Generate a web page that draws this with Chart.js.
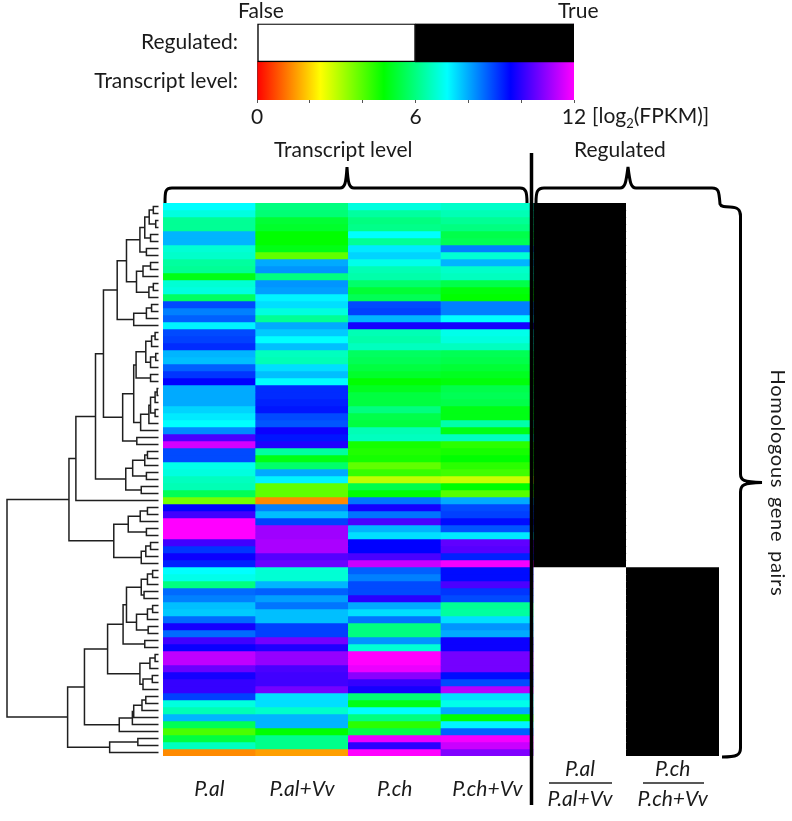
<!DOCTYPE html>
<html><head><meta charset="utf-8">
<style>
html,body{margin:0;padding:0;background:#fff;width:792px;height:821px;overflow:hidden;font-family:Lato,sans-serif;color:#1a1a1a}
canvas{position:absolute}
.t{position:absolute;font-size:21px;line-height:20px;white-space:nowrap}
svg{position:absolute;left:0;top:0}
sub{font-size:13px;line-height:0}
</style>
<script src="https://cdn.jsdelivr.net/npm/chart.js@4"></script>
</head><body>
<div style="position:absolute;left:0;top:0;width:640px;height:130px"><canvas id="legendChart"></canvas></div>
<div style="position:absolute;left:0;top:196px;width:165px;height:567px"><canvas id="treeChart"></canvas></div>
<div style="position:absolute;left:163px;top:203px;width:556px;height:610px"><canvas id="heatChart"></canvas></div>
<svg width="792" height="821" fill="none" stroke="#000">
<path d="M531.5 153V805" stroke-width="3.5"/>
<path d="M165 203C165 192 165 188 172 188H340C345 188 346 183 347 167C348 183 349 188 354 188H520C526 188 527 192 527 203" stroke-width="3"/>
<path d="M536 203C536 192 537 188 544 188H620C625 188 626 183 628 167C630 183 631 188 636 188H712C719 188 719 192 720 204C721 207 725 207 730 207C738 207 740.5 210 740.5 216V474C740.5 480 743 482 762 482.5C743 483 740.5 485 740.5 492V748C740.5 755 737 757 722 757" stroke-width="3"/>
<path d="M549 783H612M643 783H704" stroke-width="1.5" stroke="#222"/>
</svg>
<div class="t" style="left:238px;top:0">False</div>
<div class="t" style="left:558px;top:0">True</div>
<div class="t" style="left:592px;top:105px">[log<sub>2</sub>(FPKM)]</div>
<div class="t" style="left:274px;top:139px">Transcript level</div>
<div class="t" style="left:574px;top:139px">Regulated</div>
<div class="t" style="left:779px;top:483px;font-size:20px;letter-spacing:0.7px;word-spacing:3px;transform:translate(-50%,-50%) rotate(90deg)">Homologous gene pairs</div>
<script>
const columnLabels = [['', '', 'P.al'], ['', '', 'P.al+Vv'], ['', '', 'P.ch'], ['', '', 'P.ch+Vv'], ['P.al', '', '', 'P.al+Vv'], ['P.ch', '', '', 'P.ch+Vv']];
const pAl = [7.2,6.9,6.2,6.2,7.9,7.9,6.8,6.7,6.3,6.2,5.0,6.8,6.9,5.7,8.9,8.4,8.7,7.3,8.9,9.0,9.2,7.9,7.8,8.7,9.1,9.6,8.0,8.0,8.0,7.6,7.4,7.2,8.3,10.3,11.6,8.9,8.9,7.0,6.9,6.6,6.5,5.6,3.7,9.6,10.2,12,12,12,10.2,9.1,9.7,9.3,7.2,7.0,6.0,8.6,8.4,7.8,7.7,8.6,9.8,8.6,10.2,9.7,11.4,11.4,10.6,9.8,10.1,10.1,9.0,6.9,6.5,7.9,5.6,4.1,5.4,6.6,1.3];
const pAlVv = [6.0,5.9,5.3,5.2,4.8,4.8,5.0,3.9,8.0,8.2,6.0,8.2,8.1,7.3,7.5,6.9,6.2,8.0,7.7,7.2,7.8,6.6,6.5,7.5,7.8,7.2,9.2,9.2,9.3,9.4,8.9,8.8,9.7,9.4,9.9,6.3,5.0,5.8,8.0,7.3,3.9,3.9,1.3,8.4,7.8,9.0,11.1,11.1,11.2,11.2,10.4,10.6,6.8,6.8,7.9,8.7,8.1,8.5,7.8,7.8,9.0,9.0,10.7,9.9,11.0,11.0,10.3,10.2,10.2,10.7,7.5,7.5,6.7,7.9,7.9,4.8,6.1,6.1,1.5];
const pCh = [6.9,6.3,6.0,6.1,7.2,6.2,7.4,7.6,7.0,6.5,6.4,5.8,5.3,5.6,8.9,9.0,7.9,9.8,6.5,6.4,6.6,5.7,5.6,5.4,5.2,4.8,5.1,5.4,5.4,6.0,5.5,5.4,6.5,6.6,4.6,4.5,4.6,3.9,4.3,3.0,5.5,4.8,8.5,9.8,8.5,10.3,7.9,7.5,9.6,9.6,10.3,11.5,8.7,8.4,8.9,8.9,10.0,8.0,7.5,8.5,6.0,6.0,8.2,6.8,12,12,11.8,10.9,10.1,9.8,5.9,5.0,7.2,6.0,4.4,5.5,11.8,10.0,12];
const pChVv = [6.7,6.5,6.2,6.0,5.5,5.6,8.4,6.8,7.9,6.7,6.6,5.5,4.9,4.8,8.4,8.4,7.2,9.8,7.0,6.9,6.6,5.6,5.5,5.3,5.1,4.9,5.5,5.6,5.5,5.0,5.0,6.4,5.0,6.6,4.4,4.6,4.8,4.4,4.2,2.9,4.8,4.0,8.0,8.9,9.0,9.5,8.8,7.4,10.5,10.4,9.3,11.9,9.5,9.5,10.3,9.1,8.9,6.2,6.3,7.5,8.2,8.0,9.7,9.7,10.7,10.7,10.7,9.5,8.9,11.3,7.5,7.0,8.0,4.8,7.3,8.7,11.9,11.5,10.8];
const regulatedAl = [1,1,1,1,1,1,1,1,1,1,1,1,1,1,1,1,1,1,1,1,1,1,1,1,1,1,1,1,1,1,1,1,1,1,1,1,1,1,1,1,1,1,1,1,1,1,1,1,1,1,1,1,0,0,0,0,0,0,0,0,0,0,0,0,0,0,0,0,0,0,0,0,0,0,0,0,0,0,0];
const regulatedCh = [0,0,0,0,0,0,0,0,0,0,0,0,0,0,0,0,0,0,0,0,0,0,0,0,0,0,0,0,0,0,0,0,0,0,0,0,0,0,0,0,0,0,0,0,0,0,0,0,0,0,0,0,1,1,1,1,1,1,1,1,1,1,1,1,1,1,1,1,1,1,1,1,1,1,1,1,1,1,1];
const legendRows = ['Regulated:', 'Transcript level:'];
const legendFalse = [6, 0];
const legendTrue = [6, 0];
const legendLevel = [0, 12];
const legendTicks = [0, 2, 4, 6, 8, 10, 12];
const legendTickLabels = [0, 6, 12];
// dendrogram clusters: [left, right, distance]; a bare number is a leaf row
const n0_7 = [[[[0,1,5],[2,3,2.7],9],[4,5,7.7],13.3],[6,7,11.7],18];
const n8_13 = [[[8,9,7.7],10,15],[[11,12,5],13,9.3],21.3];
const n14_17 = [[[14,15,6.7],16,11.7],17,24];
const n0_17 = [[n0_7,n8_13,31],n14_17,40];
const n18_25 = [[[[18,19,3.3],20,6.7],[[21,22,2.7],23,7.7],12.3],[24,25,7.7],21.7];
const n26_32 = [[[[[26,27,1.3],28,3.3],[29,30,3.3],7.7],31,9.3],32,17.3];
const n18_34 = [[n18_25,n26_32,24],[33,34,21],34.7];
const n35_41 = [[[[35,36,10.7],37,13.3],[38,39,11.7],25],[40,41,16.7],31.7];
const n0_42 = [[[n0_17,n18_34,53.3],n35_41,61],42,80];
const n43_51 = [[[[43,44,10.7],45,17.7],[46,47,11.7],29.3],[[[48,49,7.7],50,12.3],51,16.7],43.3];
const n52_56 = [[[52,53,5.7],54,10.7],[55,56,14],16.7];
const n57_61 = [[[57,58,5.7],59,10.7],[60,61,10],21.3];
const n52_63 = [[n52_56,n57_61,31],[62,63,13.3],34.3];
const n64_69 = [[[64,65,3.3],66,8.3],[[67,68,6],69,15],18];
const n70_75 = [[[[[70,71,12.3],72,16],73,24],74,25.3],75,38];
const n52_75 = [[n52_63,n64_69,49.3],n70_75,71.7];
const n76_78 = [[76,77,20],78,47.3];
const dendrogramRoot = [[n0_42,n43_51,86.7],[n52_75,n76_78,88],146.7];
const rowCount = pAl.length;

function levelColor(v) { return 'hsl(' + (v * 25) + ',100%,50%)'; }
const FONT = 'Lato, sans-serif';
const TEXT = '#1a1a1a';

/* heat map: one stacked dataset per row */
const heatDatasets = [];
for (let r = 0; r < rowCount; r++) {
  heatDatasets.push({
    data: columnLabels.map(() => 1),
    backgroundColor: [levelColor(pAl[r]), levelColor(pAlVv[r]), levelColor(pCh[r]), levelColor(pChVv[r]),
                      regulatedAl[r] ? '#000' : '#fff', regulatedCh[r] ? '#000' : '#fff'],
    borderWidth: 0, barPercentage: 1, categoryPercentage: 1
  });
}
new Chart(document.getElementById('heatChart'), {
  type: 'bar',
  data: { labels: columnLabels, datasets: heatDatasets },
  options: {
    responsive: true, maintainAspectRatio: false, animation: false,
    layout: { padding: 0 },
    plugins: { legend: { display: false }, tooltip: { enabled: false } },
    scales: {
      x: { stacked: true, offset: true, border: { display: false }, grid: { display: false },
           afterFit: function (s) { s.height = 57; },
           ticks: { autoSkip: false, maxRotation: 0, minRotation: 0, padding: 0,
                    color: TEXT, font: { family: FONT, size: 21, style: 'italic', lineHeight: 0.476 } } },
      y: { stacked: true, reverse: true, min: 0, max: rowCount, display: false }
    }
  }
});

/* dendrogram */
const treeSegments = [];
function walk(n) {
  if (typeof n === 'number') { return { y: n + 0.5, d: 0 }; }
  const a = walk(n[0]);
  const b = walk(n[1]);
  const d = n[2];
  treeSegments.push([{ x: a.d, y: a.y }, { x: d, y: a.y }, { x: d, y: b.y }, { x: b.d, y: b.y }]);
  return { y: (a.y + b.y) / 2, d: d };
}
walk(dendrogramRoot);
new Chart(document.getElementById('treeChart'), {
  type: 'line',
  data: { datasets: treeSegments.map(function (s) {
    return { data: s, borderColor: '#1f1f1f', borderWidth: 1.5, pointRadius: 0, fill: false, tension: 0, clip: false };
  }) },
  options: {
    responsive: true, maintainAspectRatio: false, animation: false,
    layout: { padding: { left: 7, right: 6.5, top: 7, bottom: 7 } },
    plugins: { legend: { display: false }, tooltip: { enabled: false } },
    scales: {
      x: { type: 'linear', reverse: true, min: 0, max: 146.7, display: false },
      y: { type: 'linear', reverse: true, min: 0, max: rowCount, display: false }
    }
  }
});

/* colour key */
new Chart(document.getElementById('legendChart'), {
  type: 'bar',
  data: { labels: legendRows, datasets: [
    { label: 'False', data: legendFalse, backgroundColor: '#fff', borderColor: '#000', borderWidth: 1.5, borderSkipped: false, barPercentage: 1, categoryPercentage: 1 },
    { label: 'True', data: legendTrue, backgroundColor: '#000', barPercentage: 1, categoryPercentage: 1 },
    { label: 'Transcript level', data: legendLevel, barPercentage: 1, categoryPercentage: 1,
      backgroundColor: function (c) {
        const a = c.chart.chartArea;
        if (!a) { return '#000'; }
        const g = c.chart.ctx.createLinearGradient(a.left, 0, a.right, 0);
        const stops = ['#f00', '#ff0', '#0f0', '#0ff', '#00f', '#f0f'];
        stops.forEach(function (col, i) { g.addColorStop(i / 5, col); });
        return g;
      } }
  ] },
  options: {
    indexAxis: 'y', responsive: true, maintainAspectRatio: false, animation: false,
    layout: { padding: { top: 20, right: 66, bottom: 0, left: 0 } },
    plugins: { legend: { display: false }, tooltip: { enabled: false } },
    scales: {
      x: { type: 'linear', stacked: true, min: 0, max: 12, position: 'bottom',
           border: { display: false }, grid: { drawOnChartArea: false, color: '#555', tickLength: 3 },
           afterFit: function (s) { s.height = 30; },
           afterBuildTicks: function (s) { s.ticks = legendTicks.map(function (v) { return { value: v }; }); },
           ticks: { autoSkip: false, maxRotation: 0, padding: 2, color: TEXT, font: { family: FONT, size: 21 },
                    callback: function (v) { return legendTickLabels.includes(v) ? String(v) : ''; } } },
      y: { stacked: true, border: { display: false }, grid: { display: false },
           afterFit: function (s) { s.width = 257; },
           ticks: { padding: 11, color: TEXT, font: { family: FONT, size: 21 } } }
    }
  }
});
</script>
</body></html>
